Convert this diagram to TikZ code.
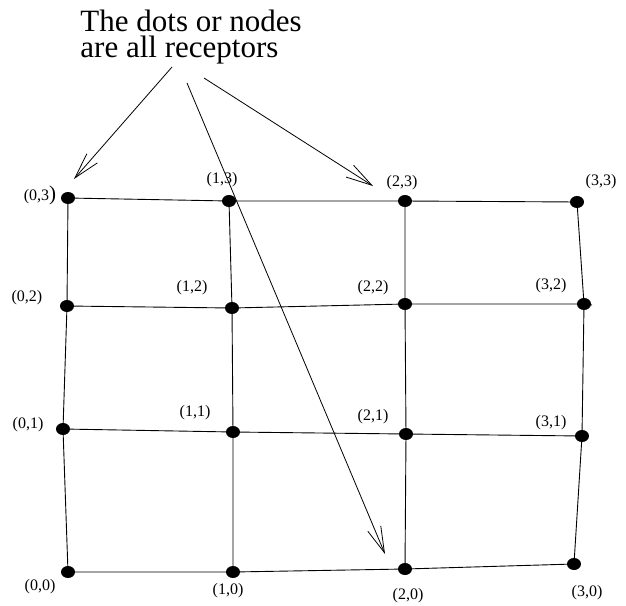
\documentclass[tikz,border=0pt]{standalone}
\usepackage{fontspec}
\setmainfont{Liberation Serif}
\usetikzlibrary{arrows.meta,shapes.geometric}

\begin{document}
\begin{tikzpicture}[x=1pt,y=-1pt,font=\fontsize{16}{18}\selectfont,line width=.9pt,
 rdot/.style={ellipse,fill,inner sep=0pt,minimum width=14pt,minimum height=12pt},
 heading/.style={anchor=base west,inner sep=0pt,font=\fontsize{31}{23}\selectfont},
 pointer/.style={-{Straight Barb[length=26pt,width=14pt]},line width=.8pt}]
\useasboundingbox (0,0) rectangle (626,605);
% receptors
\foreach \i/\j/\p/\q in {0/0/68/572,1/0/233/572,2/0/405/569,3/0/574/564,0/1/63/429,1/1/233/432,2/1/406/434,3/1/582/436,
 0/2/67/306,1/2/232/308,2/2/405/304,3/2/584/304,0/3/68/198,1/3/229/201,2/3/405/201,3/3/577/202}
 \node[rdot] (d\i\j) at (\p,\q) {};
\foreach \k in {0,...,3}{\draw (d0\k.center)--(d1\k.center)--(d2\k.center)--(d3\k.center);
 \draw (d\k0.center)--(d\k1.center)--(d\k2.center)--(d\k3.center);}
\coordinate (e32) at (592,305);\draw (d32.center)--(e32);
% labels
\foreach \i/\j/\p/\q in {0/0/40/587,1/0/228/591,2/0/408/596,3/0/587/593,0/1/28/425,1/1/195/413,2/1/373/417,3/1/551/423,
 0/2/27/298,1/2/192/288,2/2/373/288,3/2/551/286,1/3/222/180,2/3/402/183,3/3/601/182}
 \node (l\i\j) at (\p,\q) {(\i,\j)};
\node (l03) at (40,195) {(0,3{\fontsize{21}{21}\selectfont)}};
\node[heading] (title1) at (80,31) {The dots or nodes};
\node[heading] (title2) at (80,57) {are all receptors};
\coordinate (a1) at (172,67);\coordinate (a2) at (187,83);\coordinate (a3) at (204,78);
\coordinate (t1) at (74,179);\coordinate (t2) at (385,554);\coordinate (t3) at (373,186);
\draw[pointer] (a1)--(t1);\draw[pointer] (a2)--(t2);\draw[pointer] (a3)--(t3);
\end{tikzpicture}
\end{document}
